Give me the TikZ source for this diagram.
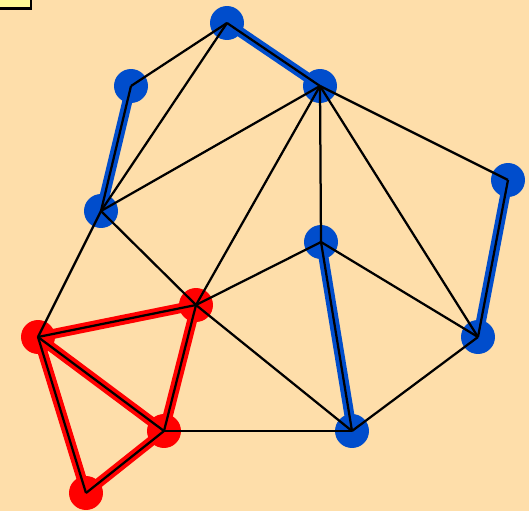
\documentclass[tikz,border=0pt]{standalone}
\usepackage{xcolor}
\usepackage{tikz}
\usetikzlibrary{positioning}
\definecolor{bgwheat}{RGB}{254, 222, 170}
\definecolor{vertblue}{RGB}{0, 77, 204}
\definecolor{vertred}{RGB}{255, 0, 0}
\definecolor{tagyellow}{RGB}{255, 250, 150}

\begin{document}
\begin{tikzpicture}[
    x=0.02cm, y=-0.02cm,
    vtx/.style={circle, inner sep=0pt, minimum size=0.68cm, fill=vertblue},
    hot/.style={vtx, fill=vertred},
    edge/.style={draw=black, line width=0.045cm},
    blueband/.style={draw=vertblue, line width=0.2cm},
    redband/.style={draw=vertred, line width=0.2cm}
]
    \fill[bgwheat] (0,0) rectangle (529,511);
    \useasboundingbox (0,0) rectangle (529,511);
    \draw[fill=tagyellow, line width=0.06cm] (-10,-10) rectangle (31,8);

    \node[vtx] (a) at (227,23) {};
    \node[vtx] (b) at (131,86) {};
    \node[vtx] (c) at (320,86) {};
    \node[vtx] (d) at (101,211) {};
    \node[vtx] (e) at (508,180) {};
    \node[vtx] (f) at (321,242) {};
    \node[hot] (g) at (196,305) {};
    \node[hot] (h) at (38,337) {};
    \node[vtx] (i) at (478,337) {};
    \node[hot] (j) at (164,431) {};
    \node[vtx] (k) at (352,431) {};
    \node[hot] (l) at (86,493) {};

    \draw[blueband] (a.center) -- (c.center);
    \draw[blueband] (b.center) -- (d.center);
    \draw[blueband] (e.center) -- (i.center);
    \draw[blueband] (f.center) -- (k.center);
    \draw[redband, line join=round] (h.center) -- (g.center) -- (j.center) -- (l.center) -- cycle;
    \draw[redband] (h.center) -- (j.center);

    \foreach \u/\v in {a/b, a/c, a/d, b/d, c/d, c/g, c/f, c/e, c/i,
                       d/h, d/g, e/i, f/g, f/k, f/i, g/h, g/j, g/k,
                       h/j, h/l, j/l, j/k, k/i}
        \draw[edge] (\u.center) -- (\v.center);
\end{tikzpicture}
\end{document}
